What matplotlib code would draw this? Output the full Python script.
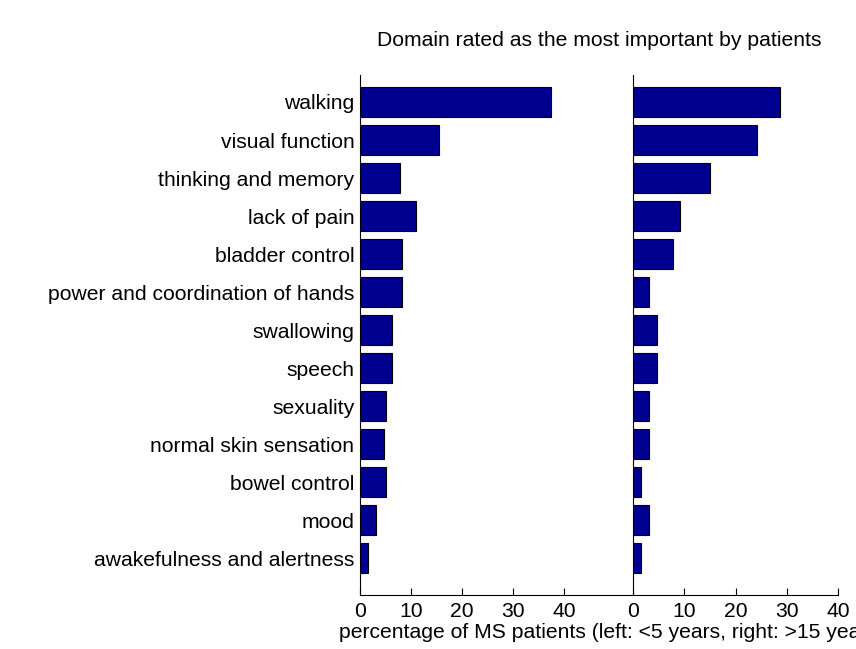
import matplotlib
matplotlib.use("Agg")
import matplotlib.pyplot as plt

plt.rcParams['font.family'] = ['Liberation Sans', 'DejaVu Sans']

domains = [
    "walking", "visual function", "thinking and memory", "lack of pain",
    "bladder control", "power and coordination of hands", "swallowing",
    "speech", "sexuality", "normal skin sensation", "bowel control", "mood",
    "awakefulness and alertness",
]
early_pct = [37.5, 15.5, 7.8, 10.9, 8.2, 8.2, 6.3, 6.3, 5.1, 4.7, 5.1, 3.1, 1.6]
late_pct = [28.6, 24.1, 15.1, 9.2, 7.8, 3.1, 4.7, 4.7, 3.1, 3.1, 1.6, 3.1, 1.6]
xticks = [0, 10, 20, 30, 40]

W, H = 856, 649
FS = 15.2
fig = plt.figure(figsize=(W / 100, H / 100), dpi=100)

def px_axes(x0, x1, y0, y1):
    return fig.add_axes([x0 / W, 1 - y1 / H, (x1 - x0) / W, (y1 - y0) / H])

ax_l = px_axes(360, 633, 75, 595)
ax_r = px_axes(633, 838, 75, 595)

pos = list(range(len(domains)))
bar_color = "#000090"

for ax, vals, xmax in ((ax_l, early_pct, 53.5), (ax_r, late_pct, 40)):
    ax.barh(pos, vals, height=0.8, color=bar_color, edgecolor="black", linewidth=0.8)
    ax.set_xlim(0, xmax)
    ax.set_ylim(12.97, -0.71)
    ax.set_xticks(xticks)
    ax.set_xticklabels([str(t) for t in xticks], fontsize=FS)
    ax.tick_params(axis="x", direction="in", length=5, width=0.8, pad=5)
    ax.spines["top"].set_visible(False)
    ax.spines["right"].set_visible(False)
    ax.spines["left"].set_linewidth(0.8)
    ax.spines["bottom"].set_linewidth(0.8)
    ax.patch.set_alpha(0)

ax_l.set_yticks(pos)
ax_l.set_yticklabels(domains, fontsize=FS)
ax_l.tick_params(axis="y", length=0, pad=4)
ax_r.set_yticks([])

fig.text(599 / W, 1 - 41 / H, "Domain rated as the most important by patients",
         ha="center", va="center", fontsize=FS)
fig.text(339 / W, 1 - 632 / H,
         "percentage of MS patients (left: <5 years, right: >15 years)",
         ha="left", va="center", fontsize=FS)

fig.savefig("out.png", dpi=100)
